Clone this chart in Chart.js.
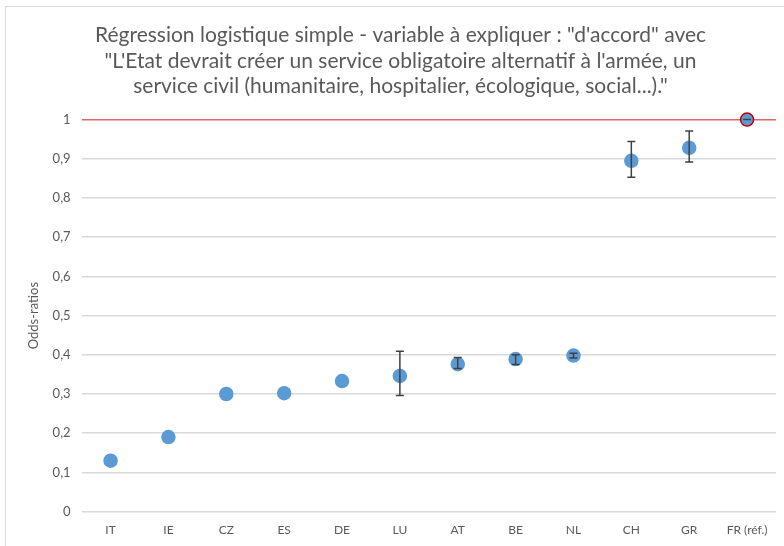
<!DOCTYPE html>
<html>
<head>
<meta charset="utf-8">
<script src="https://cdn.jsdelivr.net/npm/chart.js@4.4.1/dist/chart.umd.min.js"></script>
<style>
  body { margin: 0; background: #fff; }
  #wrap { position: relative; width: 784px; height: 546px; overflow: hidden; }
  #frame { position: absolute; left: 5px; top: 6px; width: 800px; height: 560px; border: 1px solid #d9d9d9; }
  canvas { position: absolute; left: 0; top: 0; }
</style>
</head>
<body>
<div id="wrap">
  <div id="frame"></div>
  <canvas id="orChart" width="784" height="546"></canvas>
</div>
<script>
// pays et odds-ratios
var countries = ["IT", "IE", "CZ", "ES", "DE", "LU", "AT", "BE", "NL", "CH", "GR", "FR (réf.)"];
var oddsRatios = [0.13, 0.19, 0.30, 0.302, 0.333, 0.346, 0.376, 0.389, 0.398, 0.895, 0.928, 1];
var ciLow  = [null, null, null, null, null, 0.296, 0.365, 0.375, 0.392, 0.853, 0.892, 1];
var ciHigh = [null, null, null, null, null, 0.409, 0.393, 0.400, 0.404, 0.944, 0.971, 1];
var yTicks = [0, 0.1, 0.2, 0.3, 0.4, 0.5, 0.6, 0.7, 0.8, 0.9, 1];

var titleLines = [
  "Régression logistique simple - variable à expliquer : \"d'accord\" avec",
  "\"L'Etat devrait créer un service obligatoire alternatif à l'armée, un",
  "service civil (humanitaire, hospitalier, écologique, social...).\""
];

var pointColors = oddsRatios.map(function (v, i) { return "#5b9bd5"; });
var pointBorders = countries.map(function (c, i) { return i == countries.length - 1 ? "#c00000" : "#5b9bd5"; });

// barres d'erreur dessinees avec les echelles du graphique
var errorBars = {
  id: "errorBars",
  afterDatasetsDraw: function (chart) {
    var ctx = chart.ctx;
    var x = chart.scales.x, y = chart.scales.y;
    ctx.save();
    ctx.strokeStyle = "#404040";
    ctx.lineWidth = 1.5;
    for (var i = 0; i < countries.length; i++) {
      if (ciLow[i] == null) continue;
      var px = x.getPixelForValue(i);
      var yl = y.getPixelForValue(ciLow[i]);
      var yh = y.getPixelForValue(ciHigh[i]);
      ctx.beginPath();
      ctx.moveTo(px, yl); ctx.lineTo(px, yh);
      ctx.moveTo(px - 4, yl); ctx.lineTo(px + 4, yl);
      ctx.moveTo(px - 4, yh); ctx.lineTo(px + 4, yh);
      ctx.stroke();
    }
    ctx.restore();
  }
};

new Chart("orChart", {
  type: "line",
  data: {
    labels: countries,
    datasets: [{
      data: oddsRatios,
      showLine: false,
      pointRadius: 6.5,
      pointHoverRadius: 6.5,
      pointBackgroundColor: pointColors,
      pointBorderColor: pointBorders,
      pointBorderWidth: 1.5,
      clip: false
    }]
  },
  options: {
    responsive: false,
    animation: false,
    layout: { padding: { left: 22, right: 5, top: 0, bottom: 6 } },
    plugins: {
      legend: { display: false },
      tooltip: { enabled: false },
      title: {
        display: true,
        text: titleLines,
        color: "#595959",
        font: { family: "Lato", size: 21, weight: "normal", lineHeight: 1.2 },
        padding: { top: 23, bottom: 21 }
      }
    },
    scales: {
      x: {
        offset: true,
        grid: { display: false },
        border: { display: false },
        ticks: { color: "#595959", font: { family: "Lato", size: 12 }, padding: 3, maxRotation: 0 }
      },
      y: {
        min: 0,
        max: 1,
        afterBuildTicks: function (axis) {
          axis.ticks = yTicks.map(function (v) { return { value: v }; });
        },
        border: { display: false },
        grid: {
          drawTicks: false,
          color: function (c) { return c.tick && c.tick.value == 1 ? "#e06666" : "#d9d9d9"; },
          lineWidth: 1.5
        },
        ticks: {
          color: "#595959",
          font: { family: "Lato", size: 13 },
          padding: 11,
          callback: function (v) { return String(Math.round(v * 10) / 10).replace(".", ","); }
        },
        title: {
          display: true,
          text: "Odds-ratios",
          color: "#595959",
          font: { family: "Lato", size: 13 },
          padding: { top: 4, bottom: 0 }
        }
      }
    }
  },
  plugins: [errorBars]
});
</script>
</body>
</html>
